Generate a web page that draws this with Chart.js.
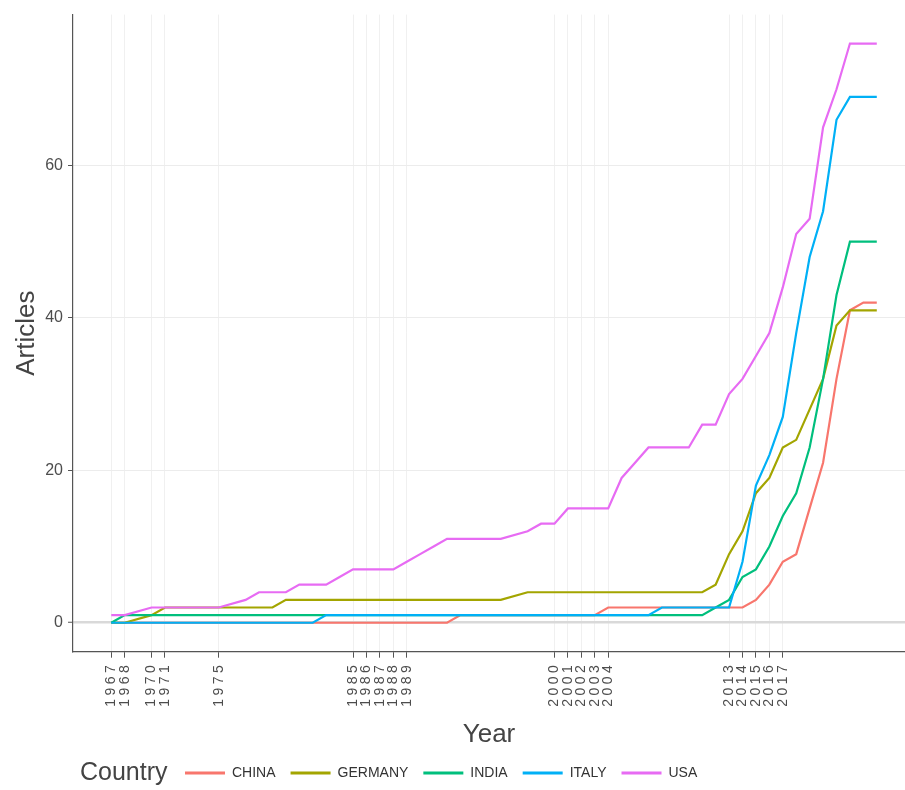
<!DOCTYPE html>
<html>
<head>
<meta charset="utf-8">
<script src="https://cdn.jsdelivr.net/npm/chart.js@4/dist/chart.umd.min.js"></script>
<style>
html,body{margin:0;padding:0;background:#ffffff;}
canvas{display:block;}
</style>
</head>
<body>
<canvas id="c" width="905" height="790"></canvas>
<script>
// ---- data ----
const years = [1967,1968,1970,1971,1972,1973,1974,1975,
  1977,1978,1979,1980,1981,1982,1983,1984,1985,1986,1987,1988,1989,1990,1991,1992,1993,1994,1995,1996,
  1998,1999,2000,2001,2002,2003,2004,2005,2006,2007,2008,2009,2010,2011,2012,2013,2014,2015,2016,2017,2018,2019,2020,2021,2022,2023,2024];

const china   = [0,0,0,0,0,0,0,0,
  0,0,0,0,0,0,0,0,0,0,0,0,0,0,0,0,1,1,1,1,
  1,1,1,1,1,1,2,2,2,2,2,2,2,2,2,2,2,3,5,8,9,15,21,32,41,42,42];
const germany = [0,0,1,2,2,2,2,2,
  2,2,2,3,3,3,3,3,3,3,3,3,3,3,3,3,3,3,3,3,
  4,4,4,4,4,4,4,4,4,4,4,4,4,4,5,9,12,17,19,23,24,28,32,39,41,41,41];
const india   = [0,1,1,1,1,1,1,1,
  1,1,1,1,1,1,1,1,1,1,1,1,1,1,1,1,1,1,1,1,
  1,1,1,1,1,1,1,1,1,1,1,1,1,1,2,3,6,7,10,14,17,23,32,43,50,50,50];
const italy   = [0,0,0,0,0,0,0,0,
  0,0,0,0,0,0,1,1,1,1,1,1,1,1,1,1,1,1,1,1,
  1,1,1,1,1,1,1,1,1,1,2,2,2,2,2,2,8,18,22,27,38,48,54,66,69,69,69];
const usa     = [1,1,2,2,2,2,2,2,
  3,4,4,4,5,5,5,6,7,7,7,7,8,9,10,11,11,11,11,11,
  12,13,13,15,15,15,15,19,21,23,23,23,23,26,26,30,32,35,38,44,51,53,65,70,76,76,76];

const countries = ['CHINA','GERMANY','INDIA','ITALY','USA'];
const seriesValues = [china, germany, india, italy, usa];
const colors = ['#F8766D','#A3A500','#00BF7D','#00B0F6','#E76BF3'];

const xTickYears = [1967,1968,1970,1971,1975,1985,1986,1987,1988,1989,2000,2001,2002,2003,2004,2013,2014,2015,2016,2017];
const yTickValues = [0,20,40,60];

const xTitle = 'Year';
const yTitle = 'Articles';
const legendTitle = 'Country';

// ---- chart ----
const FONT = '"Liberation Sans", Arial, sans-serif';
Chart.defaults.font.family = FONT;

const datasets = countries.map((name, k) => ({
  label: name,
  data: years.map((yr, i) => ({x: yr, y: seriesValues[k][i]})),
  borderColor: colors[k],
  backgroundColor: colors[k],
  borderWidth: 2.2,
  pointRadius: 0,
  pointHoverRadius: 0,
  tension: 0,
  fill: false,
  order: countries.length - k
}));

const extras = {
  id: 'extras',
  beforeDraw(chart) {
    const s = chart.scales.x;
    if (s && !s.__spaced) {
      const orig = s.drawLabels;
      s.drawLabels = function(area) {
        const c = this.ctx;
        c.save();
        c.letterSpacing = '3.5px';
        orig.call(this, area);
        c.restore();
      };
      s.__spaced = true;
    }
  },
  afterLayout(chart) {
    if (chart.legend) chart.legend.left = 170;
  },
  afterDraw(chart) {
    const c = chart.ctx;
    c.save();
    c.font = '25px ' + FONT;
    c.fillStyle = '#444444';
    c.textAlign = 'left';
    c.textBaseline = 'middle';
    c.fillText(legendTitle, 80, 773);
    c.restore();
  }
};

new Chart(document.getElementById('c'), {
  type: 'line',
  data: { datasets },
  plugins: [extras],
  options: {
    responsive: false,
    animation: false,
    layout: { padding: { top: 12.8, right: 0, bottom: 0, left: 0 } },
    plugins: {
      tooltip: { enabled: false },
      legend: {
        position: 'bottom',
        align: 'start',
        maxHeight: 40,
        labels: {
          boxWidth: 40,
          boxHeight: 3,
          padding: 15,
          color: '#333333',
          font: { size: 14 },
          sort: (a, b) => a.datasetIndex - b.datasetIndex,
          generateLabels(chart) {
            return Chart.defaults.plugins.legend.labels.generateLabels(chart).map(it => ({
              ...it, lineWidth: 0,
              fillStyle: colors[it.datasetIndex], strokeStyle: colors[it.datasetIndex]
            }));
          }
        }
      }
    },
    scales: {
      x: {
        type: 'linear',
        min: 1964.15,
        max: 2026.1,
        afterBuildTicks(scale) { scale.ticks = xTickYears.map(v => ({ value: v })); },
        afterFit(scale) { scale.height = 99.3; },
        ticks: {
          autoSkip: false,
          minRotation: 90,
          maxRotation: 90,
          padding: 4,
          color: '#4d4d4d',
          font: { size: 14 },
          callback: v => String(v)
        },
        grid: { color: '#f0f0f0', lineWidth: 1, tickLength: 6, tickColor: '#555555', tickWidth: 1 },
        border: { color: '#555555', width: 1.2 },
        title: { display: true, text: xTitle, color: '#444444', font: { size: 26 }, padding: { top: 0, bottom: 1 } }
      },
      y: {
        min: -3.8,
        max: 79.8,
        afterBuildTicks(scale) { scale.ticks = yTickValues.map(v => ({ value: v })); },
        afterFit(scale) { scale.width = 73; },
        ticks: {
          padding: 5,
          color: '#4d4d4d',
          font: { size: 16 },
          callback: v => String(v)
        },
        grid: {
          color: ctx => (ctx.tick && ctx.tick.value === 0) ? '#d9d9d9' : '#ececec',
          lineWidth: ctx => (ctx.tick && ctx.tick.value === 0) ? 2.5 : 1,
          tickLength: 5,
          tickColor: '#555555',
          tickWidth: 1
        },
        border: { color: '#555555', width: 1.2 },
        title: { display: true, text: yTitle, color: '#444444', font: { size: 26 }, padding: { top: 11, bottom: 0 } }
      }
    }
  }
});
</script>
</body>
</html>
